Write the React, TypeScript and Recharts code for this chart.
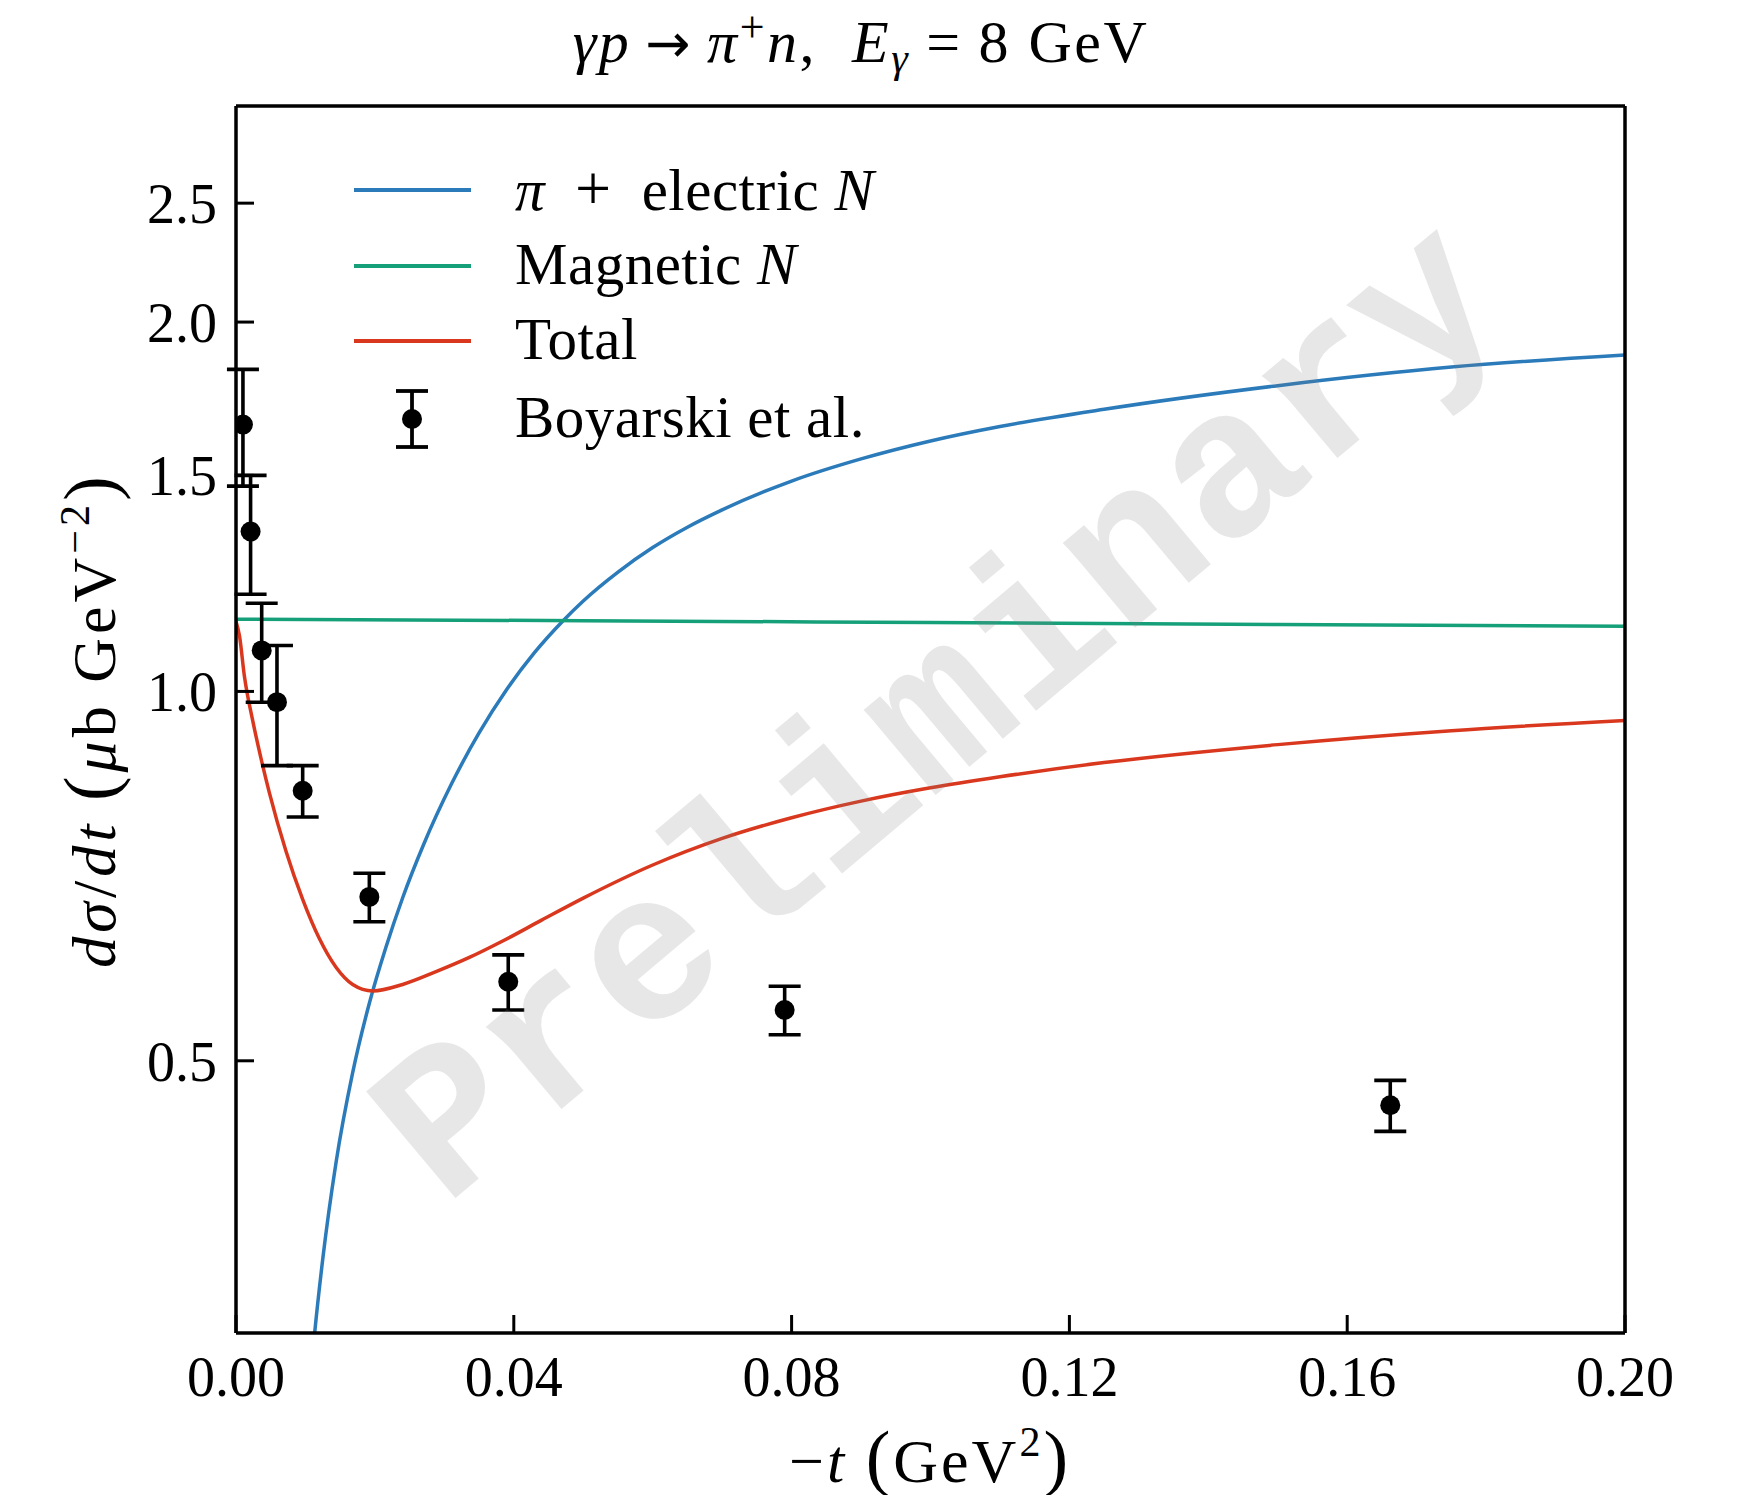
import React from 'react';
import { ComposedChart, Line, Scatter, ErrorBar, XAxis, YAxis } from 'recharts';

const W = 1737;
const H = 1495;
const SERIF = '"Liberation Serif", "DejaVu Serif", serif';

const BLUE = '#2b7bba';
const GREEN = '#16a07a';
const RED = '#d9381e';

const xTicks = [0, 0.04, 0.08, 0.12, 0.16, 0.2];
const yTicks = [0.5, 1.0, 1.5, 2.0, 2.5];

// pi + electric N
const electricT = [0.0105, 0.0113, 0.0125, 0.0144, 0.0168, 0.0192, 0.0216, 0.024, 0.027, 0.031, 0.035, 0.039, 0.043, 0.0471, 0.05, 0.055, 0.06, 0.065, 0.07, 0.08, 0.09, 0.1, 0.11, 0.125, 0.15, 0.175, 0.2];
const electricV = [0.267, 0.299, 0.345, 0.413, 0.489, 0.557, 0.619, 0.679, 0.75, 0.84, 0.925, 1.004, 1.076, 1.142, 1.185, 1.251, 1.31, 1.361, 1.406, 1.484, 1.547, 1.6, 1.644, 1.698, 1.775, 1.838, 1.88];

// magnetic N
const magneticT = [0, 0.05, 0.1, 0.15, 0.2];
const magneticV = [1.145, 1.142, 1.138, 1.134, 1.13];

// total
const totalT = [0, 0.0005, 0.0012, 0.0024, 0.0036, 0.0048, 0.0072, 0.0096, 0.012, 0.0144, 0.0168, 0.0197, 0.024, 0.0288, 0.0336, 0.0384, 0.044, 0.05, 0.06, 0.07, 0.08, 0.09, 0.1, 0.11, 0.125, 0.15, 0.175, 0.2];
const totalV = [1.14, 1.11, 1.03, 0.947, 0.882, 0.827, 0.741, 0.677, 0.629, 0.596, 0.577, 0.57, 0.577, 0.591, 0.607, 0.626, 0.651, 0.6785, 0.722, 0.759, 0.789, 0.814, 0.8346, 0.852, 0.875, 0.905, 0.929, 0.947];

// Boyarski et al.
const dataT = [0.001, 0.0021, 0.0037, 0.0059, 0.0096, 0.0192, 0.0392, 0.079, 0.1662];
const dataV = [1.65, 1.35, 1.08, 0.98, 0.83, 0.68, 0.58, 0.55, 0.46];
const dataErr = [0.18, 0.15, 0.1, 0.11, 0.04, 0.031, 0.03, 0.025, 0.022];

const zip = (ts: number[], vs: number[]) => ts.map((t, i) => ({ t, v: vs[i] }));

const electric = zip(electricT, electricV);
const magnetic = zip(magneticT, magneticV);
const total = zip(totalT, totalV);
const boyarski = dataT.map((t, i) => ({ t, v: dataV[i], err: dataErr[i] }));

const tickFont = { fill: '#000', fontSize: 56, fontFamily: SERIF };
const axisLine = { stroke: '#000', strokeWidth: 3.5 };
const tickLine = { stroke: '#000', strokeWidth: 3 };

function Dot(props: any) {
  const { cx, cy } = props;
  if (cx == null || cy == null) return null;
  return <circle cx={cx} cy={cy} r={10} fill="#000" />;
}

const legendRows = [
  { y: 190, color: BLUE, label: <><i>π</i><span style={{ margin: '0 30px', fontSize: 64 }}>+</span>electric <i>N</i></> },
  { y: 266, color: GREEN, label: <>Magnetic <i>N</i></> },
  { y: 341, color: RED, label: <>Total</> },
  { y: 419, color: null, label: <>Boyarski et al.</> },
];

function LegendBox() {
  return (
    <>
      <svg width={W} height={H} style={{ position: 'absolute', left: 0, top: 0, pointerEvents: 'none' }}>
        {legendRows.map((r, i) =>
          r.color ? (
            <line key={i} x1={354} x2={471} y1={r.y} y2={r.y} stroke={r.color} strokeWidth={3.8} />
          ) : (
            <g key={i} stroke="#000" strokeWidth={3.8}>
              <line x1={412} x2={412} y1={r.y - 28} y2={r.y + 28} />
              <line x1={396} x2={428} y1={r.y - 28} y2={r.y - 28} />
              <line x1={396} x2={428} y1={r.y + 28} y2={r.y + 28} />
              <circle cx={412} cy={r.y} r={10} fill="#000" stroke="none" />
            </g>
          )
        )}
      </svg>
      {legendRows.map((r, i) => (
        <div
          key={i}
          style={{
            position: 'absolute',
            left: 515,
            top: r.y - 31,
            fontSize: 59,
            lineHeight: '59px',
            letterSpacing: 0.5,
            whiteSpace: 'nowrap',
            fontFamily: SERIF,
          }}
        >
          {r.label}
        </div>
      ))}
    </>
  );
}

export default function App() {
  return (
    <div style={{ position: 'relative', width: W, height: H, background: '#fff', fontFamily: SERIF, color: '#000' }}>
      <style>{'body{margin:0}'}</style>
      <ComposedChart width={W} height={H} margin={{ top: 105, right: 111, bottom: 0, left: 0 }}>
        <XAxis
          xAxisId="b"
          dataKey="t"
          type="number"
          domain={[0, 0.2]}
          ticks={xTicks}
          allowDataOverflow
          height={162}
          tickSize={-18}
          tickMargin={41}
          tickFormatter={(v: number) => v.toFixed(2)}
          tick={tickFont}
          axisLine={axisLine}
          tickLine={tickLine}
        />
        <XAxis
          xAxisId="top"
          orientation="top"
          dataKey="t"
          type="number"
          domain={[0, 0.2]}
          ticks={xTicks}
          allowDataOverflow
          height={1}
          tickSize={-18}
          tick={false}
          axisLine={axisLine}
          tickLine={tickLine}
        />
        <YAxis
          yAxisId="l"
          type="number"
          scale="log"
          domain={[0.3, 3]}
          ticks={yTicks}
          allowDataOverflow
          width={236}
          tickSize={-18}
          tickMargin={37}
          tickFormatter={(v: number) => v.toFixed(1)}
          tick={tickFont}
          axisLine={axisLine}
          tickLine={tickLine}
        />
        <YAxis
          yAxisId="r"
          orientation="right"
          type="number"
          scale="log"
          domain={[0.3, 3]}
          ticks={yTicks}
          allowDataOverflow
          width={1}
          tickSize={-18}
          tick={false}
          axisLine={axisLine}
          tickLine={tickLine}
        />
        <Line xAxisId="b" yAxisId="l" data={electric} dataKey="v" type="monotone" stroke={BLUE} strokeWidth={3.5} dot={false} isAnimationActive={false} />
        <Line xAxisId="b" yAxisId="l" data={magnetic} dataKey="v" type="monotone" stroke={GREEN} strokeWidth={3.5} dot={false} isAnimationActive={false} />
        <Line xAxisId="b" yAxisId="l" data={total} dataKey="v" type="monotone" stroke={RED} strokeWidth={3.5} dot={false} isAnimationActive={false} />
        <Scatter xAxisId="b" yAxisId="l" data={boyarski} dataKey="v" shape={<Dot />} isAnimationActive={false}>
          <ErrorBar dataKey="err" direction="y" width={16} strokeWidth={3.6} stroke="#000" isAnimationActive={false} />
        </Scatter>
      </ComposedChart>

      <LegendBox />

      {/* title */}
      <div style={{ position: 'absolute', left: 0, width: 1722, top: 12, textAlign: 'center', fontSize: 60, lineHeight: '60px', letterSpacing: 2.5, whiteSpace: 'nowrap' }}>
        <i>γp</i>
        <span style={{ fontFamily: '"DejaVu Sans", sans-serif', fontSize: 54, margin: '0 14px' }}>→</span>
        <i>π</i><sup style={{ fontSize: 44, verticalAlign: '20px', lineHeight: 0 }}>+</sup><i>n</i>,&nbsp;&nbsp;<i>E</i>
        <sub style={{ fontSize: 42, verticalAlign: '-10px', lineHeight: 0 }}><i>γ</i></sub>
        <span style={{ margin: '0 16px' }}>=</span>8 GeV
      </div>

      {/* x label */}
      <div style={{ position: 'absolute', left: 0, width: 1860, top: 1426, textAlign: 'center', fontSize: 62, lineHeight: '62px', letterSpacing: 3, whiteSpace: 'nowrap' }}>
        −<i>t</i>&nbsp;<span style={{ fontSize: 74 }}>(</span>GeV<sup style={{ fontSize: 42, verticalAlign: '26px', lineHeight: 0 }}>2</sup><span style={{ fontSize: 74 }}>)</span>
      </div>

      {/* y label */}
      <div
        style={{
          position: 'absolute',
          left: 92,
          top: 720,
          transform: 'translate(-50%, -50%) rotate(-90deg)',
          fontSize: 62,
          lineHeight: '62px',
          letterSpacing: 4,
          whiteSpace: 'nowrap',
        }}
      >
        <i>dσ</i>/<i>dt</i> <span style={{ fontSize: 74 }}>(</span><i>μ</i>b GeV<sup style={{ fontSize: 42, verticalAlign: '26px', lineHeight: 0 }}>−2</sup><span style={{ fontSize: 74 }}>)</span>
      </div>

      {/* watermark */}
      <div
        style={{
          position: 'absolute',
          left: 942,
          top: 716,
          transform: 'translate(-50%, -50%) rotate(-40deg)',
          fontFamily: '"Liberation Mono", "DejaVu Sans Mono", monospace',
          fontWeight: 'bold',
          fontSize: 211,
          lineHeight: '211px',
          color: 'rgba(128,128,128,0.19)',
          whiteSpace: 'nowrap',
          pointerEvents: 'none',
        }}
      >
        Preliminary
      </div>
    </div>
  );
}
